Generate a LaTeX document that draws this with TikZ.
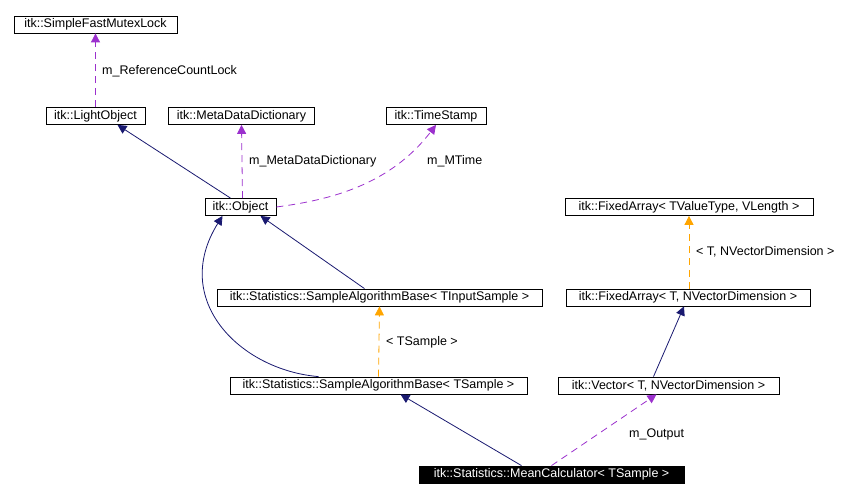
\documentclass[tikz,border=0pt]{standalone}
\usepackage{fontspec}
\setmainfont{Liberation Sans}
\usetikzlibrary{arrows.meta,positioning}

\tikzset{
  cls/.style={draw,thick,rectangle,inner sep=0pt,minimum height=17pt,font=\fontsize{12.5}{14}\selectfont},
  inh/.style={draw=navy,thick,-{Triangle[length=9pt,width=9pt]}},
  use/.style={draw=violet,thick,dash pattern=on 7pt off 5pt,-{Triangle[length=9pt,width=9pt]}},
  tpl/.style={draw=tplorange,thick,dash pattern=on 7pt off 5pt,-{Triangle[length=9pt,width=9pt]}},
  lbl/.style={font=\fontsize{12.5}{14}\selectfont,anchor=west,inner sep=0pt}
}
\definecolor{navy}{RGB}{25,25,112}
\definecolor{violet}{RGB}{155,48,205}
\definecolor{tplorange}{RGB}{255,165,0}

\begin{document}
\begin{tikzpicture}[x=1pt,y=-1pt]
  \useasboundingbox (0,0) rectangle (862,502);

  \node[cls,minimum width=163pt] (mutex) at (95.5,24.5) {itk::SimpleFastMutexLock};
  \node[cls,minimum width=99pt] (light) at (95.5,116) {itk::LightObject};
  \node[cls,minimum width=146pt] (meta) at (241.5,116) {itk::MetaDataDictionary};
  \node[cls,minimum width=100pt] (stamp) at (436,116) {itk::TimeStamp};
  \node[cls,minimum width=71pt] (object) at (240.5,207) {itk::Object};
  \node[cls,minimum width=248pt] (fixedv) at (689,207) {itk::FixedArray< TValueType, VLength >};
  \node[cls,minimum width=325pt] (sabin) at (379.5,297.5) {itk::Statistics::SampleAlgorithmBase< TInputSample >};
  \node[cls,minimum width=244pt] (fixedt) at (688,297.5) {itk::FixedArray< T, NVectorDimension >};
  \node[cls,minimum width=297pt] (sabts) at (378.5,385.5) {itk::Statistics::SampleAlgorithmBase< TSample >};
  \node[cls,minimum width=221pt] (vector) at (668.5,385.5) {itk::Vector< T, NVectorDimension >};
  \node[cls,minimum width=265pt,fill=black,text=white] (mean) at (551.5,474.5) {itk::Statistics::MeanCalculator< TSample >};

  % usage relations
  \draw[use] (light.north) -- (mutex.south);
  \node[lbl] at (102,71) {m\_ReferenceCountLock};
  \draw[use] ([xshift=2pt]object.north) -- (meta.south);
  \node[lbl] at (249,161) {m\_MetaDataDictionary};
  \draw[use] (object.east) .. controls (330,200) and (390,185) .. (stamp.south);
  \node[lbl] at (427,161) {m\_MTime};
  \draw[use] (mean.north) -- ([xshift=-12pt]vector.south);
  \node[lbl] at (629,434) {m\_Output};

  % inheritance
  \draw[inh] ([xshift=-10pt]object.north) -- ([xshift=22pt]light.south);
  \draw[inh] ([xshift=-15pt]sabin.north) -- ([xshift=20pt]object.south);
  \draw[inh] ([xshift=-60pt]sabts.north) .. controls (240,370) and (170,300) .. ([xshift=-18pt]object.south);
  \draw[inh] ([xshift=-30pt]mean.north) -- ([xshift=22pt]sabts.south);
  \draw[inh] ([xshift=-15pt]vector.north) -- ([xshift=-4pt]fixedt.south);

  % template instances
  \draw[tpl] (sabts.north) -- (sabin.south);
  \node[lbl] at (386,342) {< TSample >};
  \draw[tpl] ([xshift=1pt]fixedt.north) -- (fixedv.south);
  \node[lbl] at (696,252) {< T, NVectorDimension >};
\end{tikzpicture}
\end{document}
